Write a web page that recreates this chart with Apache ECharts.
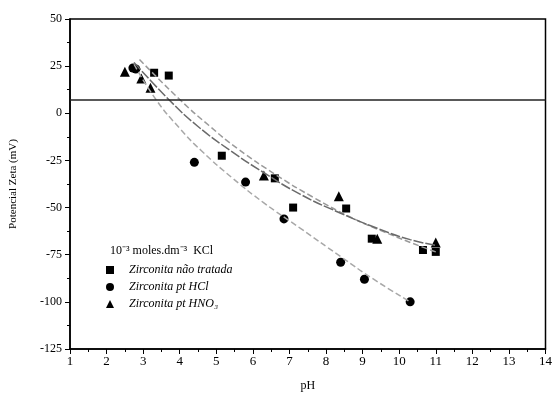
<!DOCTYPE html>
<html>
<head>
<meta charset="utf-8">
<script src="https://cdn.jsdelivr.net/npm/echarts@6/dist/echarts.min.js"></script>
<style>
  html, body { margin: 0; padding: 0; background: #fff; }
  #chart { width: 555px; height: 397px; }
</style>
</head>
<body>
<div id="chart"></div>
<script>
// pontos medidos (pH, potencial zeta mV)
var naoTratada = [[3.3, 21.5], [3.7, 20], [5.15, -22.5], [6.6, -34.5], [7.1, -50], [8.55, -50.5], [9.25, -66.5], [10.65, -72.5], [11, -73.5]];
var ptHCl = [[2.72, 24], [2.8, 23.5], [4.4, -26], [5.8, -36.5], [6.85, -56], [8.4, -79], [9.05, -88], [10.3, -100]];
var ptHNO3 = [[2.5, 22], [2.95, 18.5], [3.2, 13.5], [6.3, -33], [8.35, -44], [9.4, -66.5], [11, -68.5]];

// curvas ajustadas
var curvaNaoTratada = [[2.9, 28.5], [4.0, 7.3], [4.8, -6.5], [5.6, -19], [6.66, -33], [7.6, -44], [8.66, -55], [9.6, -63], [10.64, -71], [11, -73.5]];
var curvaHCl = [[2.75, 26], [3.35, 7.3], [4.0, -8], [4.6, -20], [5.45, -34.5], [6.3, -47.5], [7.3, -61], [8.4, -76], [9.3, -88], [10.3, -100]];
var curvaHNO3 = [[2.75, 27], [3.7, 7.3], [4.5, -7], [5.4, -20], [6.26, -31], [7.3, -43], [8.4, -53], [9.4, -61], [10.3, -67], [11, -70]];

var linhaRef = 7.3;

var serif = 'Liberation Serif';
var chart = echarts.init(document.getElementById('chart'));

var curveStyle = function (color, dash) {
  return {
    type: 'line',
    smooth: true,
    symbol: 'none',
    silent: true,
    lineStyle: { color: color, width: 1.5, type: dash }
  };
};

var option = {
  backgroundColor: '#fff',
  animation: false,
  textStyle: { fontFamily: serif },
  grid: {
    left: 67, right: 7, top: 19, bottom: 46,
    show: true, borderColor: '#000', borderWidth: 1.5
  },
  legend: {
    orient: 'vertical',
    left: 101,
    top: 259,
    itemGap: 5,
    itemWidth: 8,
    itemHeight: 8,
    data: ['Zirconita não tratada', 'Zirconita pt HCl', 'Zirconita pt HNO₃'],
    textStyle: { fontFamily: serif, fontStyle: 'italic', fontSize: 12, color: '#000', padding: [0, 0, 0, 10] }
  },
  graphic: [{
    type: 'text',
    left: 110,
    top: 245,
    style: { text: '10⁻³ moles.dm⁻³  KCl', font: '12px "Liberation Serif"', fill: '#000' }
  }],
  xAxis: {
    type: 'value',
    min: 1, max: 14, interval: 1,
    name: 'pH',
    nameLocation: 'middle',
    nameGap: 31,
    nameTextStyle: { fontFamily: serif, fontSize: 12, color: '#000' },
    axisLine: { onZero: false, lineStyle: { color: '#000', width: 1.5 } },
    axisTick: { length: 5, lineStyle: { color: '#000' } },
    minorTick: { show: true, splitNumber: 2, length: 3, lineStyle: { color: '#000' } },
    axisLabel: { fontFamily: serif, fontSize: 13, color: '#000', margin: 6 },
    splitLine: { show: false }
  },
  yAxis: {
    type: 'value',
    min: -125, max: 50, interval: 25,
    name: 'Potencial Zeta (mV)',
    nameLocation: 'middle',
    nameGap: 51,
    nameTextStyle: { fontFamily: serif, fontSize: 11, color: '#000' },
    axisLine: { lineStyle: { color: '#000', width: 1.5 } },
    axisTick: { length: 5, lineStyle: { color: '#000' } },
    minorTick: { show: true, splitNumber: 2, length: 3, lineStyle: { color: '#000' } },
    axisLabel: { fontFamily: serif, fontSize: 12, color: '#000', margin: 8 },
    splitLine: { show: false }
  },
  series: [
    Object.assign(curveStyle('#9a9a9a', [6, 3]), { name: 'curva1', data: curvaNaoTratada }),
    Object.assign(curveStyle('#a8a8a8', [6, 3]), { name: 'curva2', data: curvaHCl }),
    Object.assign(curveStyle('#6a6a6a', [10, 2]), {
      name: 'curva3', data: curvaHNO3,
      markLine: {
        silent: true, symbol: 'none', label: { show: false },
        lineStyle: { color: '#222', width: 1.5, type: 'solid' },
        data: [{ yAxis: linhaRef }]
      }
    }),
    {
      name: 'Zirconita não tratada', type: 'scatter', symbol: 'rect', symbolSize: 8,
      itemStyle: { color: '#000', opacity: 1 }, data: naoTratada
    },
    {
      name: 'Zirconita pt HCl', type: 'scatter', symbol: 'circle', symbolSize: 9,
      itemStyle: { color: '#000', opacity: 1 }, data: ptHCl
    },
    {
      name: 'Zirconita pt HNO₃', type: 'scatter', symbol: 'triangle', symbolSize: 10,
      itemStyle: { color: '#000', opacity: 1 }, data: ptHNO3
    }
  ]
};

chart.setOption(option);
</script>
</body>
</html>
